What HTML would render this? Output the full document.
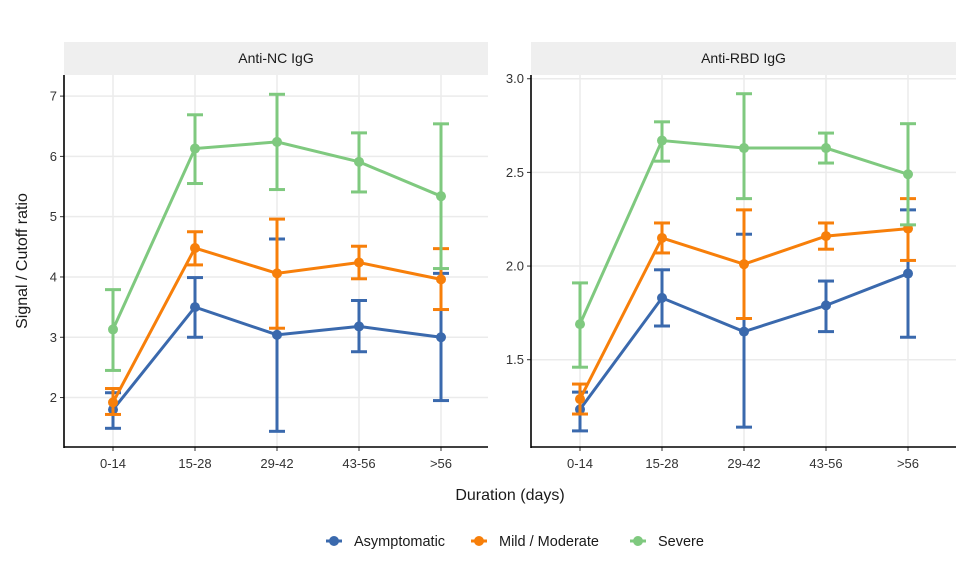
<!DOCTYPE html>
<html><head><meta charset="utf-8"><style>
body{margin:0;background:#fff;}
svg{display:block;font-family:"Liberation Sans",sans-serif;}
</style></head><body>
<svg id="chart" width="976" height="583" viewBox="0 0 976 583" xmlns="http://www.w3.org/2000/svg"></svg>
<script>
const categories = ["0-14","15-28","29-42","43-56",">56"];
const seriesNames = ["Asymptomatic","Mild / Moderate","Severe"];
const colors = ["#3a69ad","#f77f0a","#7fc97f"];
// Anti-NC IgG
const ncMean = [[1.80,3.50,3.04,3.18,3.00],[1.92,4.48,4.06,4.24,3.96],[3.13,6.13,6.24,5.91,5.34]];
const ncLow  = [[1.49,3.00,1.44,2.76,1.95],[1.72,4.20,3.15,3.97,3.46],[2.45,5.55,5.45,5.41,4.14]];
const ncHigh = [[2.08,3.99,4.63,3.61,4.06],[2.15,4.75,4.96,4.51,4.47],[3.79,6.69,7.03,6.39,6.54]];
const ncTicks = [2,3,4,5,6,7];
// Anti-RBD IgG
const rbdMean = [[1.235,1.83,1.65,1.79,1.96],[1.29,2.15,2.01,2.16,2.20],[1.69,2.67,2.63,2.63,2.49]];
const rbdLow  = [[1.12,1.68,1.14,1.65,1.62],[1.21,2.07,1.72,2.09,2.03],[1.46,2.56,2.36,2.55,2.22]];
const rbdHigh = [[1.327,1.98,2.17,1.92,2.30],[1.37,2.23,2.30,2.23,2.36],[1.91,2.77,2.92,2.71,2.76]];
const rbdTicks = [1.5,2.0,2.5,3.0];
const rbdTickLabels = ["1.5","2.0","2.5","3.0"];

const svg = document.getElementById('chart');
const NS = "http://www.w3.org/2000/svg";
function mk(tag, attrs, parent){const e=document.createElementNS(NS,tag);for(const k in attrs)e.setAttribute(k,attrs[k]);(parent||svg).appendChild(e);return e;}

const plotTop=75, plotBottom=447;
const panels = [
 {title:"Anti-NC IgG", x0:64, x1:488, ymin:1.18, ymax:7.35, mean:ncMean, low:ncLow, high:ncHigh, ticks:ncTicks, labels:ncTicks.map(String), name:"anti-nc"},
 {title:"Anti-RBD IgG", x0:531, x1:956, ymin:1.034, ymax:3.02, mean:rbdMean, low:rbdLow, high:rbdHigh, ticks:rbdTicks, labels:rbdTickLabels, name:"anti-rbd"}
];
panels.forEach(p=>{
  const g = mk('g',{});
  
  
  const xs = i => p.x0 + 49 + i*82;
  const ys = v => plotBottom - (v-p.ymin)/(p.ymax-p.ymin)*(plotBottom-plotTop);
  const strip = mk('rect',{x:p.x0,y:42,width:p.x1-p.x0,height:33,fill:'#efefef'},g);
  
  
  const st = mk('text',{x:(p.x0+p.x1)/2,y:63,'text-anchor':'middle','font-size':14,fill:'#1a1a1a'},g);
  st.textContent = p.title;
  
  
  p.ticks.forEach((t,i)=>{
    mk('line',{x1:p.x0,x2:p.x1,y1:ys(t),y2:ys(t),stroke:'#ebebeb','stroke-width':1.5},g);
    mk('line',{x1:p.x0-4,x2:p.x0,y1:ys(t),y2:ys(t),stroke:'#333','stroke-width':1},g);
    const tl = mk('text',{x:p.x0-7,y:ys(t)+4.5,'text-anchor':'end','font-size':13,fill:'#333'},g);
    tl.textContent = p.labels[i];
    
    
  });
  categories.forEach((c,i)=>{
    mk('line',{x1:xs(i),x2:xs(i),y1:plotTop,y2:plotBottom,stroke:'#ebebeb','stroke-width':1.5},g);
    mk('line',{x1:xs(i),x2:xs(i),y1:plotBottom,y2:plotBottom+4,stroke:'#333','stroke-width':1},g);
    const tl = mk('text',{x:xs(i),y:plotBottom+21,'text-anchor':'middle','font-size':13,fill:'#333'},g);
    tl.textContent = c;
    
    
  });
  mk('line',{x1:p.x0,x2:p.x0,y1:plotTop,y2:plotBottom+1,stroke:'#000','stroke-width':1.6},g);
  mk('line',{x1:p.x0,x2:p.x1,y1:plotBottom,y2:plotBottom,stroke:'#000','stroke-width':1.6},g);
  seriesNames.forEach((s,si)=>{
    const col = colors[si];
    const sg = mk('g',{},g);
    
    
    p.mean[si].forEach((v,i)=>{
      const x=xs(i), yl=ys(p.low[si][i]), yh=ys(p.high[si][i]);
      mk('line',{x1:x,x2:x,y1:yl,y2:yh,stroke:col,'stroke-width':3},sg);
      mk('line',{x1:x-8,x2:x+8,y1:yl,y2:yl,stroke:col,'stroke-width':3},sg);
      mk('line',{x1:x-8,x2:x+8,y1:yh,y2:yh,stroke:col,'stroke-width':3},sg);
    });
    const pts = p.mean[si].map((v,i)=>xs(i)+','+ys(v)).join(' ');
    mk('polyline',{points:pts,fill:'none',stroke:col,'stroke-width':3},sg);
    p.mean[si].forEach((v,i)=>{
      const c = mk('circle',{cx:xs(i),cy:ys(v),r:5,fill:col},sg);
      
      
    });
  });
});
const yt = mk('text',{x:0,y:0,transform:'translate(27,261) rotate(-90)','text-anchor':'middle','font-size':16,fill:'#1a1a1a'});
yt.textContent = "Signal / Cutoff ratio";


const xt = mk('text',{x:510,y:500,'text-anchor':'middle','font-size':16,fill:'#1a1a1a'});
xt.textContent = "Duration (days)";


const legX = [334,479,638];
seriesNames.forEach((s,i)=>{
  const lg = mk('g',{});
  
  
  mk('line',{x1:legX[i]-8,x2:legX[i]+8,y1:541,y2:541,stroke:colors[i],'stroke-width':3},lg);
  mk('circle',{cx:legX[i],cy:541,r:5,fill:colors[i]},lg);
  const t = mk('text',{x:legX[i]+20,y:546,'font-size':14.5,fill:'#1a1a1a'},lg);
  t.textContent = s;
});
</script>
</body></html>
